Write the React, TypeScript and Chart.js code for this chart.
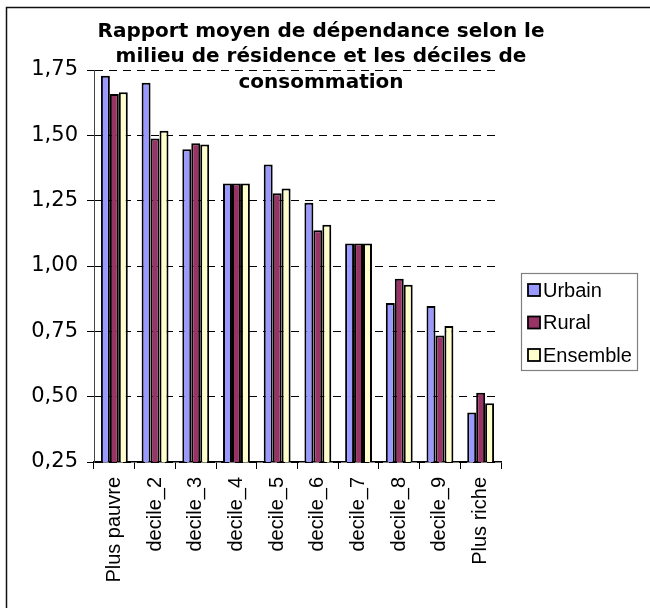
import React, { useEffect, useRef } from 'react';
import { Chart, registerables } from 'chart.js';

Chart.register(...registerables);

const categories = ['Plus pauvre', 'decile_2', 'decile_3', 'decile_4', 'decile_5', 'decile_6', 'decile_7', 'decile_8', 'decile_9', 'Plus riche'];
const urbain = [1.728, 1.701, 1.447, 1.316, 1.388, 1.242, 1.086, 0.858, 0.847, 0.439];
const rural = [1.658, 1.488, 1.470, 1.316, 1.278, 1.137, 1.086, 0.951, 0.734, 0.515];
const ensemble = [1.665, 1.518, 1.465, 1.316, 1.297, 1.158, 1.086, 0.928, 0.770, 0.475];
const seriesNames = ['Urbain', 'Rural', 'Ensemble'];
const seriesColors = ['#9999FF', '#993366', '#FFFFCC'];
const titleLines = ['Rapport moyen de dépendance selon le', 'milieu de résidence et les déciles de', 'consommation'];
const yMin = 0.25;
const yMax = 1.75;
const yStep = 0.25;

const fmt = (v: number) => v.toFixed(2).replace('.', ',');

const decorPlugin = {
  id: 'decor',
  afterDraw(chart: any) {
    const ctx = chart.ctx;
    ctx.save();
    // outer frame
    ctx.strokeStyle = '#111';
    ctx.lineWidth = 1.5;
    ctx.strokeRect(6.5, 7.5, 700, 700);
    // title
    ctx.fillStyle = '#000';
    ctx.font = 'bold 20px "DejaVu Sans", Verdana, sans-serif';
    ctx.textAlign = 'center';
    ctx.textBaseline = 'middle';
    const ys = [31.5, 57, 82.5];
    titleLines.forEach((t, i) => ctx.fillText(t, 321, ys[i]));
    // legend
    const lx = 521.5, ly = 273.5, lw = 116, lh = 97;
    ctx.fillStyle = '#fff';
    ctx.fillRect(lx, ly, lw, lh);
    ctx.strokeStyle = '#808080';
    ctx.lineWidth = 1.2;
    ctx.strokeRect(lx, ly, lw, lh);
    ctx.font = '20px "Liberation Sans", Arial, sans-serif';
    ctx.textAlign = 'left';
    ctx.textBaseline = 'middle';
    chart.data.datasets.forEach((ds: any, i: number) => {
      const cy = 290 + i * 32.5;
      ctx.fillStyle = ds.backgroundColor;
      ctx.fillRect(528, cy - 6, 12, 12);
      ctx.strokeStyle = '#000';
      ctx.lineWidth = 1.8;
      ctx.strokeRect(528, cy - 6, 12, 12);
      ctx.fillStyle = '#000';
      ctx.fillText(ds.label, 543, cy + 1);
    });
    ctx.restore();
  },
};

export default function App() {
  const ref = useRef<HTMLCanvasElement | null>(null);
  useEffect(() => {
    if (!ref.current) return;
    const data = [urbain, rural, ensemble];
    const chart = new Chart(ref.current, {
      type: 'bar',
      data: {
        labels: categories,
        datasets: seriesNames.map((name, i) => ({
          label: name,
          data: data[i],
          backgroundColor: seriesColors[i],
          borderColor: '#000',
          borderWidth: 2,
          categoryPercentage: 0.66,
          barPercentage: 1.0,
        })),
      },
      options: {
        responsive: false,
        animation: false,
        layout: { padding: { left: 6, right: 149, top: 70, bottom: 6 } },
        plugins: {
          legend: { display: false },
          title: { display: false },
          tooltip: { enabled: false },
        },
        scales: {
          x: {
            grid: { offset: true, drawOnChartArea: false, drawTicks: true, tickLength: 7, color: '#000', lineWidth: 1 },
            border: { display: true, color: '#000', width: 1.5 },
            ticks: {
              autoSkip: false,
              minRotation: 90,
              maxRotation: 90,
              padding: 8,
              color: '#000',
              font: { family: '"Liberation Sans", Arial, sans-serif', size: 20 },
            },
            afterFit(scale: any) { scale.height = 140; },
          },
          y: {
            min: yMin,
            max: yMax,
            grid: { color: '#000', lineWidth: 1, tickLength: 7, drawTicks: true },
            border: { display: true, color: '#444', width: 1, dash: [8, 6] },
            ticks: {
              stepSize: yStep,
              padding: 9,
              color: '#000',
              font: { family: '"DejaVu Sans", Verdana, sans-serif', size: 21 },
              callback: (v: any) => fmt(Number(v)),
            },
            afterFit(scale: any) { scale.width = 88; },
          },
        },
      },
      plugins: [decorPlugin],
    });
    return () => chart.destroy();
  }, []);
  return (
    <div style={{ position: 'absolute', left: 0, top: 0, width: 650, height: 608, background: '#fff' }}>
      <canvas ref={ref} width={650} height={608} />
    </div>
  );
}
